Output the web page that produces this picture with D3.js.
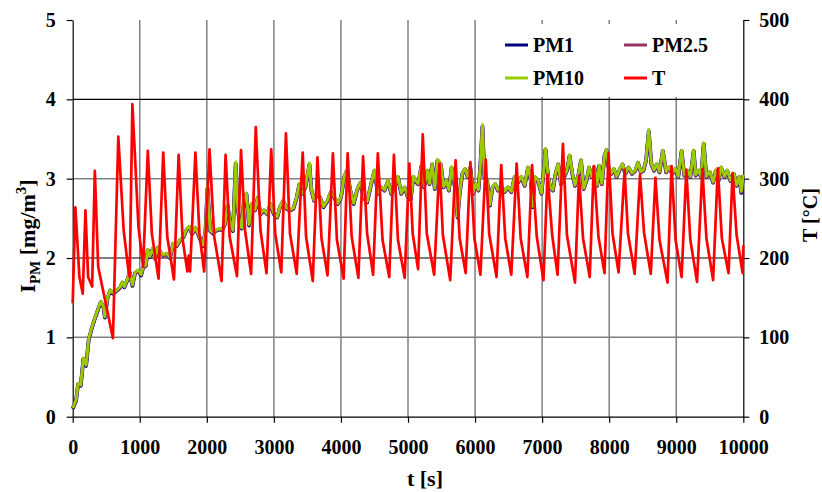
<!DOCTYPE html>
<html>
<head>
<meta charset="utf-8">
<script src="https://cdn.jsdelivr.net/npm/d3@7"></script>
<style>
  body { margin: 0; background: #fff; }
</style>
</head>
<body>
<div id="chart"></div>
<script>
const W = 822, H = 492;
const FONT = "'Liberation Serif', 'Times New Roman', Times, 'DejaVu Serif', serif";

// sampling times of the dust concentration records [s]
const pmTimes = [0, 50, 80, 120, 160, 200, 240, 280, 320, 350, 390, 420, 460, 480, 520, 560, 600, 660, 710, 740,
  770, 810, 850, 890, 930, 980, 1020, 1050, 1090, 1120, 1150, 1190, 1230, 1270, 1310, 1350, 1400, 1450, 1500, 1550,
  1600, 1650, 1700, 1740, 1780, 1830, 1880, 1940, 1980, 2010, 2050, 2090, 2130, 2180, 2230, 2270, 2310, 2350, 2390, 2430,
  2460, 2490, 2520, 2550, 2590, 2630, 2670, 2720, 2760, 2800, 2850, 2900, 2950, 3000, 3050, 3090, 3140, 3190, 3240, 3290,
  3340, 3380, 3420, 3470, 3530, 3560, 3600, 3640, 3690, 3740, 3800, 3850, 3900, 3950, 4000, 4050, 4090, 4140, 4190, 4240,
  4290, 4340, 4390, 4450, 4500, 4550, 4600, 4650, 4700, 4750, 4800, 4850, 4900, 4950, 5000, 5040, 5080, 5110, 5150, 5200,
  5240, 5290, 5320, 5360, 5400, 5440, 5490, 5530, 5570, 5610, 5650, 5700, 5740, 5770, 5810, 5850, 5890, 5930, 5970, 6010,
  6050, 6080, 6110, 6140, 6180, 6220, 6260, 6300, 6340, 6390, 6440, 6490, 6540, 6590, 6640, 6690, 6740, 6790, 6830, 6860,
  6890, 6940, 6990, 7020, 7050, 7090, 7120, 7160, 7200, 7240, 7280, 7330, 7370, 7410, 7450, 7490, 7540, 7580, 7620, 7660,
  7700, 7740, 7780, 7820, 7850, 7890, 7930, 7960, 7990, 8030, 8070, 8110, 8160, 8200, 8240, 8290, 8340, 8390, 8430, 8470,
  8510, 8550, 8590, 8630, 8670, 8710, 8750, 8800, 8850, 8890, 8940, 8990, 9030, 9080, 9120, 9160, 9210, 9260, 9290, 9330,
  9370, 9410, 9450, 9500, 9550, 9590, 9630, 9670, 9720, 9760, 9810, 9860, 9900, 9940, 9970, 10000];

// PM10 [mg/m3]
const pm10 = [0.11, 0.21, 0.42, 0.40, 0.74, 0.65, 0.99, 1.11, 1.22, 1.29, 1.39, 1.45, 1.39, 1.26, 1.51, 1.60, 1.56, 1.60, 1.64, 1.70,
  1.64, 1.72, 1.83, 1.66, 1.82, 1.85, 1.79, 1.89, 1.91, 2.11, 2.02, 2.12, 2.00, 2.14, 2.08, 2.04, 2.06, 2.01, 2.19, 2.16,
  2.23, 2.27, 2.37, 2.40, 2.31, 2.39, 2.29, 2.16, 2.35, 2.90, 2.35, 2.32, 2.35, 2.37, 2.36, 2.44, 2.67, 2.44, 2.35, 3.21,
  2.65, 2.45, 2.38, 2.70, 2.82, 2.42, 2.69, 2.61, 2.77, 2.56, 2.61, 2.56, 2.69, 2.56, 2.52, 2.65, 2.73, 2.63, 2.61, 2.63,
  2.77, 2.94, 2.82, 2.90, 3.20, 2.86, 2.73, 2.82, 2.77, 2.65, 2.73, 2.84, 2.77, 2.69, 2.77, 3.03, 3.11, 2.86, 2.69, 2.86,
  2.96, 2.77, 2.71, 2.94, 3.11, 2.82, 2.90, 2.86, 2.98, 2.82, 2.90, 3.03, 2.82, 2.90, 2.77, 2.75, 3.03, 2.98, 2.94, 3.17,
  2.90, 3.11, 2.94, 3.19, 2.88, 3.24, 3.19, 2.90, 2.98, 2.86, 3.15, 2.90, 2.52, 2.82, 3.07, 3.13, 3.03, 3.15, 2.82, 2.94,
  2.86, 3.19, 3.68, 3.03, 2.98, 2.67, 2.90, 2.94, 2.86, 2.92, 2.84, 2.90, 2.84, 3.03, 2.96, 3.03, 2.92, 3.15, 3.00, 2.65,
  3.03, 2.98, 2.82, 3.07, 3.38, 3.03, 2.90, 2.86, 3.07, 3.19, 2.94, 3.03, 3.11, 3.30, 3.07, 2.92, 3.05, 3.24, 2.88, 2.98,
  3.15, 3.03, 3.15, 2.92, 3.17, 2.94, 3.30, 3.37, 3.15, 3.07, 3.13, 3.03, 3.13, 3.19, 3.07, 3.15, 3.07, 3.11, 3.21, 3.09,
  3.11, 3.24, 3.62, 3.19, 3.11, 3.19, 3.09, 3.36, 3.09, 3.15, 3.07, 3.13, 3.03, 3.36, 3.05, 3.11, 3.03, 3.36, 3.05, 3.11,
  3.03, 3.45, 3.03, 3.09, 2.96, 3.11, 2.98, 3.15, 3.03, 3.11, 2.98, 3.07, 2.92, 3.03, 2.84, 3.05];

// PM2.5 [mg/m3] (hidden under PM10 almost everywhere)
const pm25 = [0.11, 0.21, 0.41, 0.40, 0.73, 0.65, 0.98, 1.10, 1.21, 1.29, 1.38, 1.45, 1.38, 1.26, 1.50, 1.59, 1.56, 1.59, 1.63, 1.69,
  1.64, 1.71, 1.82, 1.66, 1.81, 1.84, 1.79, 1.88, 1.90, 2.10, 2.02, 2.11, 2.00, 2.13, 2.08, 2.03, 2.05, 2.01, 2.18, 2.15,
  2.22, 2.26, 2.36, 2.39, 2.31, 2.38, 2.29, 2.16, 2.34, 2.88, 2.34, 2.32, 2.34, 2.36, 2.35, 2.43, 2.66, 2.43, 2.35, 3.19,
  2.64, 2.44, 2.38, 2.69, 2.81, 2.42, 2.68, 2.60, 2.76, 2.56, 2.60, 2.55, 2.68, 2.56, 2.51, 2.64, 2.72, 2.63, 2.60, 2.62,
  2.76, 2.93, 2.81, 2.89, 3.18, 2.85, 2.72, 2.81, 2.76, 2.65, 2.72, 2.83, 2.76, 2.69, 2.76, 3.02, 3.10, 2.85, 2.69, 2.85,
  2.95, 2.76, 2.71, 2.93, 3.10, 2.81, 2.89, 2.85, 2.97, 2.81, 2.89, 3.02, 2.81, 2.89, 2.76, 2.75, 3.02, 2.97, 2.93, 3.16,
  2.89, 3.10, 2.93, 3.18, 2.87, 3.23, 3.18, 2.89, 2.97, 2.85, 3.14, 2.89, 2.52, 2.81, 3.06, 3.12, 3.02, 3.14, 2.81, 2.93,
  2.85, 3.18, 3.66, 3.02, 2.97, 2.67, 2.89, 2.93, 2.85, 2.91, 2.83, 2.89, 2.83, 3.02, 2.95, 3.02, 2.91, 3.14, 2.99, 2.65,
  3.02, 2.97, 2.81, 3.06, 3.37, 3.02, 2.89, 2.85, 3.06, 3.18, 2.93, 3.02, 3.10, 3.29, 3.06, 2.91, 3.04, 3.23, 2.87, 2.97,
  3.14, 3.02, 3.14, 2.91, 3.16, 2.93, 3.29, 3.36, 3.14, 3.06, 3.12, 3.02, 3.12, 3.18, 3.06, 3.14, 3.06, 3.10, 3.20, 3.08,
  3.10, 3.23, 3.60, 3.18, 3.10, 3.18, 3.08, 3.35, 3.08, 3.14, 3.06, 3.12, 3.02, 3.35, 3.04, 3.10, 3.02, 3.35, 3.04, 3.10,
  3.02, 3.44, 3.02, 3.08, 2.95, 3.10, 2.97, 3.14, 3.02, 3.10, 2.97, 3.06, 2.91, 3.02, 2.83, 3.04];

// PM1 [mg/m3]
const pm1 = [0.10, 0.20, 0.41, 0.39, 0.73, 0.64, 0.98, 1.10, 1.21, 1.28, 1.38, 1.44, 1.38, 1.25, 1.50, 1.59, 1.55, 1.59, 1.63, 1.69,
  1.63, 1.71, 1.82, 1.65, 1.81, 1.84, 1.78, 1.88, 1.90, 2.10, 2.01, 2.11, 1.99, 2.13, 2.07, 2.03, 2.05, 2.00, 2.18, 2.15,
  2.22, 2.26, 2.36, 2.39, 2.30, 2.38, 2.28, 2.15, 2.34, 2.88, 2.34, 2.31, 2.34, 2.36, 2.35, 2.43, 2.66, 2.43, 2.34, 3.19,
  2.64, 2.44, 2.37, 2.69, 2.81, 2.41, 2.68, 2.60, 2.76, 2.55, 2.60, 2.55, 2.68, 2.55, 2.51, 2.64, 2.72, 2.62, 2.60, 2.62,
  2.76, 2.93, 2.81, 2.89, 3.18, 2.85, 2.72, 2.81, 2.76, 2.64, 2.72, 2.83, 2.76, 2.68, 2.76, 3.02, 3.10, 2.85, 2.68, 2.85,
  2.95, 2.76, 2.70, 2.93, 3.10, 2.81, 2.89, 2.85, 2.97, 2.81, 2.89, 3.02, 2.81, 2.89, 2.76, 2.74, 3.02, 2.97, 2.93, 3.16,
  2.89, 3.10, 2.93, 3.18, 2.87, 3.23, 3.18, 2.89, 2.97, 2.85, 3.14, 2.89, 2.51, 2.81, 3.06, 3.12, 3.02, 3.14, 2.81, 2.93,
  2.85, 3.18, 3.66, 3.02, 2.97, 2.66, 2.89, 2.93, 2.85, 2.91, 2.83, 2.89, 2.83, 3.02, 2.95, 3.02, 2.91, 3.14, 2.99, 2.64,
  3.02, 2.97, 2.81, 3.06, 3.37, 3.02, 2.89, 2.85, 3.06, 3.18, 2.93, 3.02, 3.10, 3.29, 3.06, 2.91, 3.04, 3.23, 2.87, 2.97,
  3.14, 3.02, 3.14, 2.91, 3.16, 2.93, 3.29, 3.36, 3.14, 3.06, 3.12, 3.02, 3.12, 3.18, 3.06, 3.14, 3.06, 3.10, 3.20, 3.08,
  3.10, 3.23, 3.60, 3.18, 3.10, 3.18, 3.08, 3.35, 3.08, 3.14, 3.06, 3.12, 3.02, 3.35, 3.04, 3.10, 3.02, 3.35, 3.04, 3.10,
  3.02, 3.44, 3.02, 3.08, 2.95, 3.10, 2.97, 3.14, 3.02, 3.10, 2.97, 3.06, 2.91, 3.02, 2.82, 3.04];

// temperature record: times [s] and values [°C]
const tempTimes = [0, 40, 100, 150, 190, 230, 290, 330, 380, 600, 680, 760, 830, 850, 890, 980, 1050, 1120, 1180, 1280,
  1350, 1410, 1510, 1580, 1640, 1710, 1730, 1750, 1830, 1890, 1960, 2040, 2110, 2220, 2280, 2340, 2450, 2510, 2570, 2660,
  2730, 2800, 2890, 2960, 3020, 3110, 3180, 3240, 3340, 3430, 3480, 3580, 3650, 3710, 3800, 3880, 3940, 4040, 4100, 4160,
  4260, 4330, 4390, 4480, 4550, 4620, 4720, 4790, 4850, 4950, 5020, 5070, 5150, 5220, 5280, 5390, 5470, 5520, 5630, 5710,
  5770, 5860, 5930, 5990, 6080, 6160, 6210, 6320, 6390, 6450, 6540, 6620, 6680, 6780, 6850, 6920, 7020, 7080, 7150, 7230,
  7310, 7370, 7490, 7550, 7610, 7710, 7770, 7840, 7930, 7990, 8050, 8140, 8230, 8280, 8380, 8460, 8520, 8620, 8690, 8750,
  8870, 8930, 8990, 9080, 9150, 9210, 9310, 9390, 9450, 9550, 9620, 9680, 9780, 9840, 9900, 9990, 10000];
const tempValues = [143, 264, 176, 155, 260, 176, 164, 310, 189, 99, 353, 235, 185, 176, 394, 240, 189, 335, 231, 174,
  333, 227, 173, 330, 223, 183, 203, 183, 333, 231, 183, 337, 227, 171, 330, 227, 177, 336, 235, 180,
  365, 235, 181, 337, 231, 182, 357, 231, 180, 333, 227, 171, 327, 225, 178, 332, 223, 174, 332, 227,
  175, 328, 231, 179, 332, 223, 176, 330, 223, 175, 319, 231, 186, 356, 231, 179, 319, 229, 172, 323,
  225, 181, 321, 225, 179, 324, 231, 176, 317, 225, 179, 319, 225, 176, 317, 227, 172, 305, 229, 179,
  344, 229, 169, 304, 225, 176, 316, 227, 181, 332, 231, 182, 311, 231, 180, 305, 232, 180, 301, 223,
  169, 316, 223, 176, 311, 223, 170, 312, 225, 172, 313, 225, 181, 307, 229, 181, 216];

const xTicks = d3.range(0, 10001, 1000);
const leftTicks = [0, 1, 2, 3, 4, 5];
const rightTicks = [0, 100, 200, 300, 400, 500];

const series = [
  { name: "PM1", values: pm1, color: "#000080", width: 3.8 },
  { name: "PM2.5", values: pm25, color: "#993366", width: 3.3 },
  { name: "PM10", values: pm10, color: "#99cc00", width: 2.8 }
];

const svg = d3.select("#chart").append("svg")
  .attr("width", W).attr("height", H)
  .attr("font-family", FONT)
  .attr("font-weight", "bold");
svg.append("rect").attr("width", W).attr("height", H).attr("fill", "#fff");

const x = d3.scaleLinear().domain([0, 10000]).range([72.7, 743.3]);
const yL = d3.scaleLinear().domain([0, 5]).range([416.7, 20]);
const yR = d3.scaleLinear().domain([0, 500]).range([416.7, 20]);

// grid
svg.append("g").selectAll("line").data(xTicks.slice(1, -1)).join("line")
  .attr("x1", d => x(d)).attr("x2", d => x(d))
  .attr("y1", yL(5)).attr("y2", yL(0))
  .attr("stroke", "#808080").attr("stroke-width", 1.5);
svg.append("g").selectAll("line").data([1, 2, 3, 4]).join("line")
  .attr("x1", x(0)).attr("x2", x(10000))
  .attr("y1", d => yL(d)).attr("y2", d => yL(d))
  .attr("stroke", d => d % 2 ? "#808080" : "#000")
  .attr("stroke-width", d => d % 2 ? 1.5 : 1.2);

// axes
function styleAxis(g) {
  g.attr("font-family", FONT).attr("font-size", 20).attr("font-weight", "bold");
  g.selectAll("text").attr("fill", "#000");
  g.selectAll("line, path").attr("stroke", "#000").attr("stroke-width", 1.2);
}
svg.append("g").attr("transform", `translate(${x(0)},0)`)
  .call(d3.axisLeft(yL).tickValues(leftTicks).tickSize(6).tickSizeOuter(0).tickPadding(11).tickFormat(d3.format("d")))
  .call(styleAxis);
svg.append("g").attr("transform", `translate(${x(10000)},0)`)
  .call(d3.axisRight(yR).tickValues(rightTicks).tickSize(6).tickSizeOuter(0).tickPadding(10).tickFormat(d3.format("d")))
  .call(styleAxis);
svg.append("g").attr("transform", `translate(0,${yL(0)})`)
  .call(d3.axisBottom(x).tickValues(xTicks).tickSize(6).tickSizeOuter(0).tickPadding(17).tickFormat(d3.format("d")))
  .call(styleAxis);

// data lines
const pmLine = vals => d3.line().x((d, i) => x(pmTimes[i])).y(d => yL(d))(vals);
svg.append("g").selectAll("path").data(series).join("path")
  .attr("d", d => pmLine(d.values))
  .attr("fill", "none")
  .attr("stroke", d => d.color)
  .attr("stroke-width", d => d.width)
  .attr("stroke-linejoin", "round");

svg.append("path")
  .attr("d", d3.line().x((d, i) => x(tempTimes[i])).y(d => yR(d))(tempValues))
  .attr("fill", "none").attr("stroke", "#ff0000").attr("stroke-width", 2.7)
  .attr("stroke-linejoin", "round");

// legend
const legendItems = [
  { name: "PM1", color: "#000080", lx: 505, ly: 45 },
  { name: "PM2.5", color: "#993366", lx: 624, ly: 45 },
  { name: "PM10", color: "#99cc00", lx: 505, ly: 78 },
  { name: "T", color: "#ff0000", lx: 624, ly: 78 }
];
const legend = svg.append("g");
legend.append("rect").attr("x", 477).attr("y", 24).attr("width", 264).attr("height", 73).attr("fill", "#fff");
const li = legend.selectAll("g").data(legendItems).join("g");
li.append("line")
  .attr("x1", d => d.lx).attr("x2", d => d.lx + 23)
  .attr("y1", d => d.ly).attr("y2", d => d.ly)
  .attr("stroke", d => d.color).attr("stroke-width", 3);
li.append("text")
  .attr("x", d => d.lx + 28).attr("y", d => d.ly + 7)
  .attr("font-size", 20)
  .text(d => d.name);

// axis titles
const yTitle = svg.append("text")
  .attr("transform", "translate(35,236) rotate(-90)")
  .attr("text-anchor", "middle")
  .attr("font-size", 22);
yTitle.append("tspan").text("I");
yTitle.append("tspan").attr("dy", 5).attr("font-size", 15).text("PM");
yTitle.append("tspan").attr("dy", -5).text(" [mg/m");
yTitle.append("tspan").attr("dy", -9).attr("font-size", 15).text("3");
yTitle.append("tspan").attr("dy", 9).text("]");

svg.append("text")
  .attr("transform", "translate(817,215) rotate(-90)")
  .attr("text-anchor", "middle")
  .attr("font-size", 20)
  .text("T [°C]");

svg.append("text")
  .attr("x", 425).attr("y", 486)
  .attr("text-anchor", "middle")
  .attr("font-size", 22)
  .text("t [s]");
</script>
</body>
</html>
